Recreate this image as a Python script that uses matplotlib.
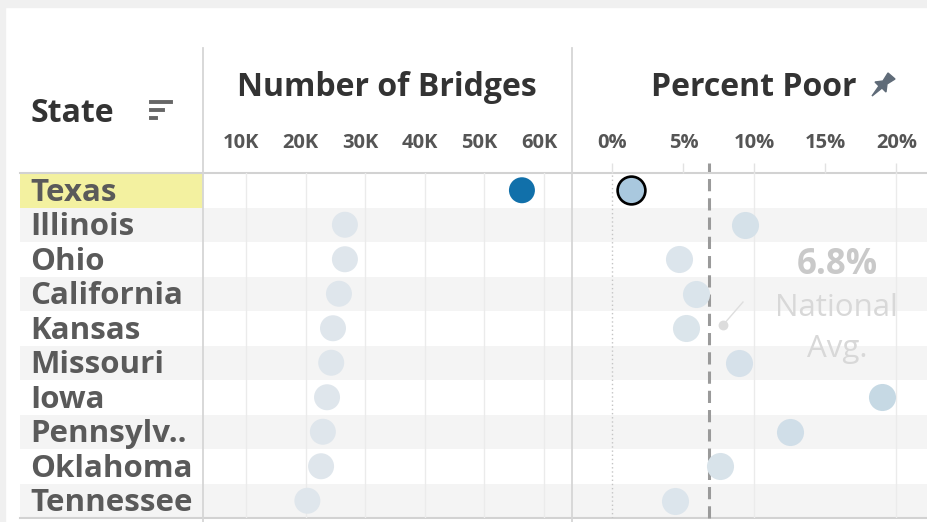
import numpy as np
import matplotlib.pyplot as plt
import matplotlib.transforms as mtransforms
from matplotlib.colors import LinearSegmentedColormap, Normalize
from matplotlib.patches import Rectangle, Polygon
from matplotlib.lines import Line2D

plt.rcParams['font.family'] = ['Open Sans', 'DejaVu Sans']

# data
states = ['Texas', 'Illinois', 'Ohio', 'California', 'Kansas',
          'Missouri', 'Iowa', 'Pennsylv..', 'Oklahoma', 'Tennessee']
bridges_k = [56.3, 26.6, 26.6, 25.6, 24.6, 24.3, 23.6, 22.9, 22.6, 20.3]
pct_poor = [1.3, 9.3, 4.7, 5.9, 5.2, 8.9, 19.0, 12.5, 7.6, 4.4]
national_avg = 6.8
selected = 'Texas'

bridge_ticks = [10, 20, 30, 40, 50, 60]
bridge_labels = ['10K', '20K', '30K', '40K', '50K', '60K']
pct_ticks = [0, 5, 10, 15, 20]
pct_labels = ['0%', '5%', '10%', '15%', '20%']

W, H = 928, 522
fig = plt.figure(figsize=(W / 100, H / 100), dpi=100)
fig.patch.set_facecolor('white')


def fx(px):
    return px / W


def fy(py):
    return 1 - py / H


n = len(states)
row_top, row_bot = 173, 518
rows_h = (row_bot - row_top) / H

# outer light frame of the dashboard
fig.patches.append(Rectangle((0, fy(7)), 1, 1, transform=fig.transFigure,
                             color='#f0f0f0', zorder=0))
fig.patches.append(Rectangle((0, 0), fx(5), 1, transform=fig.transFigure,
                             color='#f0f0f0', zorder=0))

# background: row banding + selected highlight
ax_bg = fig.add_axes([fx(20), fy(row_bot), fx(W - 20), rows_h])
ax_bg.set_xlim(0, 1)
ax_bg.set_ylim(n - 0.5, -0.5)
ax_bg.axis('off')
for i, s in enumerate(states):
    if i % 2 == 1:
        ax_bg.axhspan(i - 0.5, i + 0.5, color='#f4f4f4', lw=0)
    if s == selected:
        ax_bg.axhspan(i - 0.5, i + 0.5, xmin=0, xmax=183 / (W - 20),
                      color='#f3f1a0', lw=0)
    ax_bg.text(10 / (W - 20), i + 0.07, s, transform=ax_bg.get_yaxis_transform(),
               ha='left', va='center', fontsize=22.5, fontweight='bold',
               color='#5a5a5a')
ax_bg.axhline(-0.5, color='#d2d2d2', lw=1.5, clip_on=False)
ax_bg.axhline(n - 0.5, color='#d2d2d2', lw=1.5, clip_on=False)

shift = mtransforms.ScaledTranslation(-5 / 100, 0, fig.dpi_scale_trans)

# number of bridges panel
ax1 = fig.add_axes([fx(203), fy(row_bot), fx(572 - 203), rows_h])
ax1.patch.set_alpha(0)
ax1.set_xlim(2.79, 64.7)
ax1.set_ylim(n - 0.5, -0.5)
for sp in ax1.spines.values():
    sp.set_visible(False)
ax1.set_yticks([])
ax1.xaxis.tick_top()
ax1.set_xticks(bridge_ticks, bridge_labels)
ax1.tick_params(axis='x', length=0, pad=14.5, labelsize=14.5, labelcolor='#555555')
for lbl in ax1.get_xticklabels():
    lbl.set_fontweight('bold')
    lbl.set_transform(lbl.get_transform() + shift)
ax1.grid(axis='x', color='#ebebeb', lw=1)
ax1.set_axisbelow(True)
c1 = ['#1170aa' if s == selected else '#dfe6ec' for s in states]
ax1.scatter(bridges_k, range(n), s=350, c=c1, lw=0, zorder=3)

# percent poor panel
ax2 = fig.add_axes([fx(572), fy(row_bot), fx(W - 572), rows_h])
ax2.patch.set_alpha(0)
ax2.set_xlim(-2.85, 22.22)
ax2.set_ylim(n - 0.5, -0.5)
for sp in ax2.spines.values():
    sp.set_visible(False)
ax2.set_yticks([])
ax2.xaxis.tick_top()
ax2.set_xticks(pct_ticks, pct_labels)
ax2.tick_params(axis='x', length=7, width=1, color='#e2e2e2', pad=7.5,
                labelsize=14.5, labelcolor='#555555')
for lbl in ax2.get_xticklabels():
    lbl.set_fontweight('bold')
for v in pct_ticks:
    if v == 0:
        ax2.axvline(v, color='#c4c4c4', lw=1, ls=(0, (1, 2)), zorder=1)
    elif v % 10 == 0:
        ax2.axvline(v, color='#ebebeb', lw=1, zorder=1)
ax2.axvline(national_avg, ymin=0, ymax=1 + 10 / (row_bot - row_top),
            color='#9a9a9a', lw=2.2, ls=(0, (4, 2.3)), clip_on=False, zorder=2)

cmap = LinearSegmentedColormap.from_list('pp', ['#e3e9ee', '#c5d8e4'])
norm = Normalize(0, 20)
for i, (s, v) in enumerate(zip(states, pct_poor)):
    if s == selected:
        ax2.scatter(v, i, s=400, c='#a9c8de', edgecolors='black', lw=1.9, zorder=4)
    else:
        ax2.scatter(v, i, s=380, color=cmap(norm(v)), lw=0, zorder=3)

# national average annotation
ax2.text(15.8, 2.18, f'{national_avg}%', ha='center', va='center', fontsize=25,
         fontweight='bold', color='#c9c9c9')
ax2.text(15.8, 3.4, 'National', ha='center', va='center', fontsize=22.5,
         color='#d8d8d8')
ax2.text(15.8, 4.59, 'Avg.', ha='center', va='center', fontsize=22.5,
         color='#d8d8d8')
ax2.plot([9.19, 7.78], [3.24, 3.91], color='#dedede', lw=1, zorder=2)
ax2.scatter([7.78], [3.91], s=50, color='#dcdcdc', lw=0, zorder=2)

# headers
fig.text(fx(31), fy(113), 'State', ha='left', va='center', fontsize=23,
         fontweight='bold', color='#333333')
fig.text(fx(387), fy(88), 'Number of Bridges', ha='center', va='center',
         fontsize=23, fontweight='bold', color='#333333')
fig.text(fx(754), fy(88), 'Percent Poor', ha='center', va='center',
         fontsize=23, fontweight='bold', color='#333333')

# sort icon next to State
for y, x1 in [(102, 171), (110, 163), (118, 156)]:
    fig.lines.append(Line2D([fx(151), fx(x1)], [fy(y), fy(y)], lw=2.8,
                            color='#666666', transform=fig.transFigure))

# pin icon
pin = [(872, 96), (879, 86), (875, 82), (883, 81), (888, 73), (895, 79),
       (887, 84), (886, 92), (882, 88)]
fig.patches.append(Polygon([(fx(a), fy(b)) for a, b in pin], closed=True,
                           color='#5f6b78', transform=fig.transFigure))

# column separators
for x in [203, 572]:
    fig.lines.append(Line2D([fx(x), fx(x)], [0, fy(48)], lw=1.3,
                            color='#d6d6d6', transform=fig.transFigure))

fig.savefig('out.png', dpi=100)
